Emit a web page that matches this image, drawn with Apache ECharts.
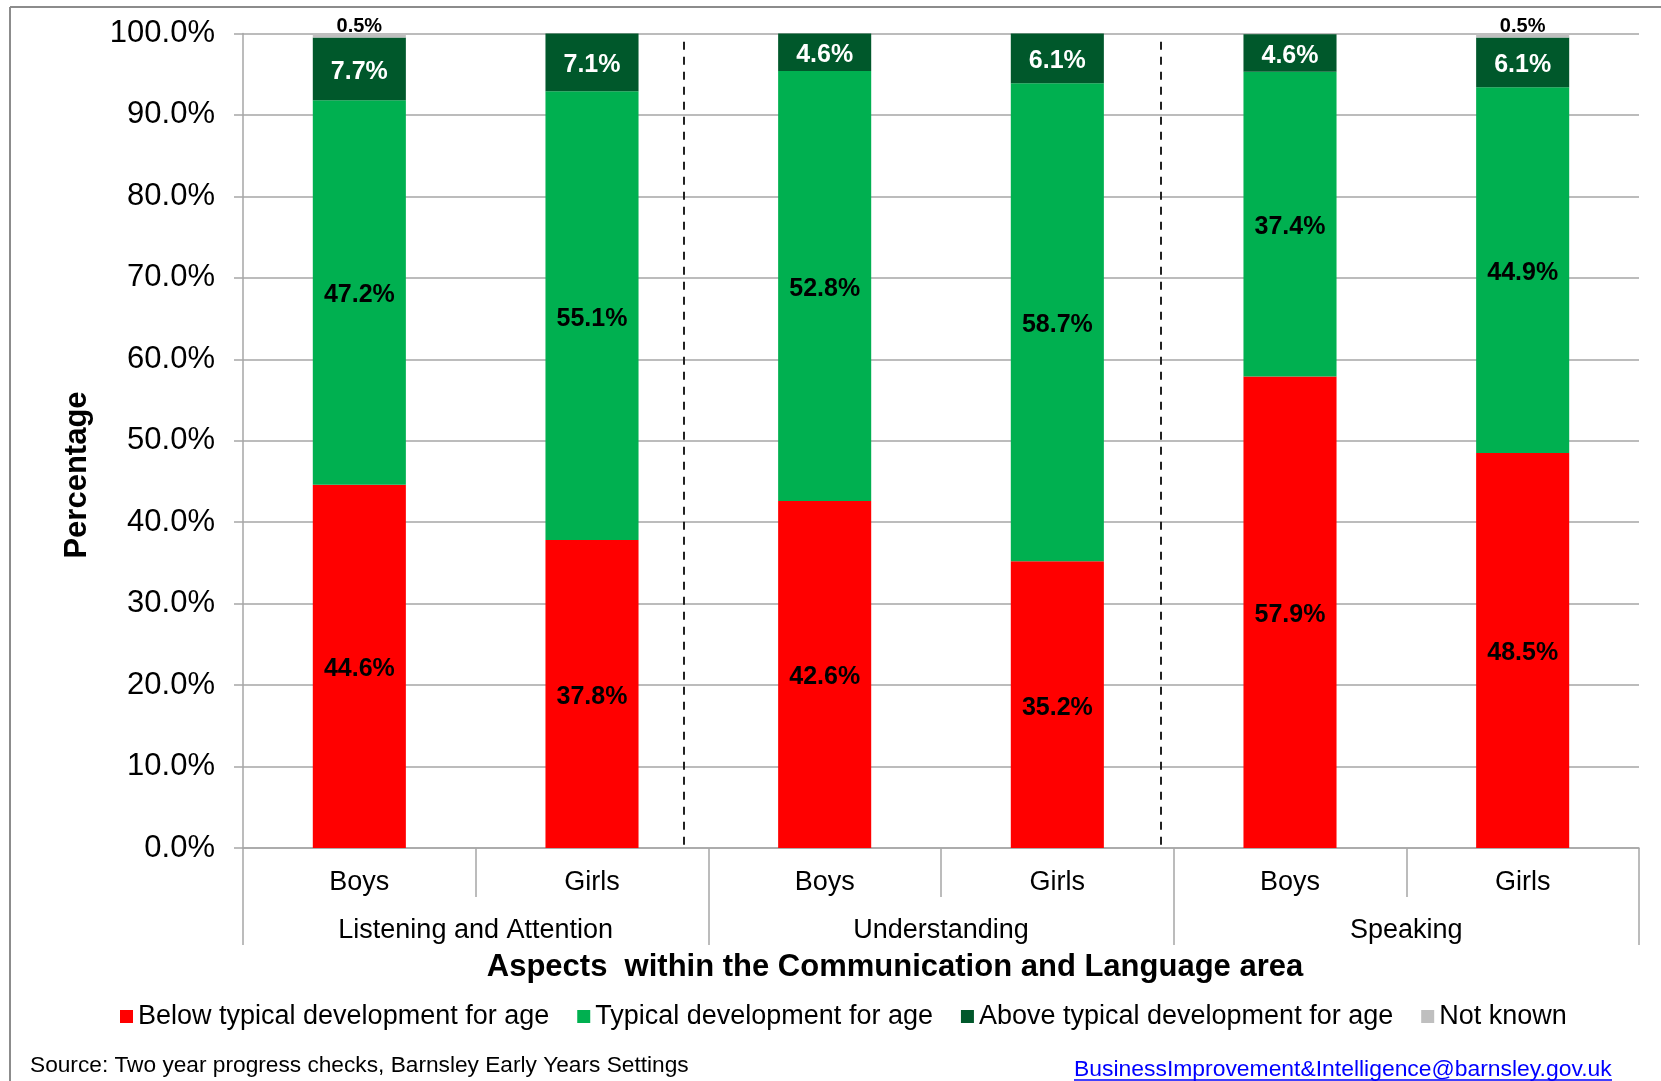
<!DOCTYPE html>
<html>
<head>
<meta charset="utf-8">
<script src="https://cdn.jsdelivr.net/npm/echarts@6/dist/echarts.min.js"></script>
<style>
  html, body { margin: 0; padding: 0; background: #fff; }
  #chart { width: 1661px; height: 1081px; }
</style>
</head>
<body>
<div id="chart"></div>
<script>
// categories
const genders = ['Boys', 'Girls', 'Boys', 'Girls', 'Boys', 'Girls'];
const aspects = ['Listening and Attention', 'Understanding', 'Speaking'];
const legendNames = ['Below typical development for age', 'Typical development for age', 'Above typical development for age', 'Not known'];

// values (%)
const belowTypical = [44.6, 37.8, 42.6, 35.2, 57.9, 48.5];
const typical = [47.2, 55.1, 52.8, 58.7, 37.4, 44.9];
const aboveTypical = [7.7, 7.1, 4.6, 6.1, 4.6, 6.1];
const notKnown = [0.5, 0, 0, 0, 0, 0.5];

// y axis ticks
const yMin = 0, yMax = 100, yStep = 10;

// dashed dividers, in category units along the x axis
const separatorPositions = [1.893, 3.945];

const FONT = 'Liberation Sans, Arial, sans-serif';
const GRID = '#a6a6a6';

function pct(p) {
  return p.value ? p.value.toFixed(1) + '%' : '';
}

function barSeries(name, data, color, labelColor, labelPos, labelSize, dist) {
  return {
    name: name,
    type: 'bar',
    stack: 'total',
    xAxisIndex: 0,
    barWidth: '40%',
    data: data,
    itemStyle: { color: color },
    label: {
      show: true,
      position: labelPos,
      distance: dist,
      offset: [0, 3],
      formatter: pct,
      color: labelColor,
      fontFamily: FONT,
      fontWeight: 'bold',
      fontSize: labelSize
    }
  };
}

let chart = echarts.init(document.getElementById('chart'));
let option = {
  backgroundColor: '#fff',
  animation: false,
  textStyle: { fontFamily: FONT },
  grid: { left: 243, right: 22, top: 33.5, bottom: 233, containLabel: false },
  legend: {
    data: legendNames,
    left: 115,
    top: 998,
    icon: 'rect',
    itemWidth: 13,
    itemHeight: 13,
    itemGap: 28,
    textStyle: { fontSize: 27, color: '#000', fontFamily: FONT }
  },
  xAxis: [
    {
      type: 'category',
      data: genders,
      position: 'bottom',
      axisLine: { show: true, lineStyle: { color: GRID, width: 1.5 } },
      axisTick: { show: true, length: 49, interval: 0, lineStyle: { color: GRID, width: 1.5 } },
      axisLabel: { interval: 0, margin: 21, fontSize: 27, color: '#000', fontFamily: FONT },
      splitLine: { show: false }
    },
    {
      type: 'category',
      data: aspects,
      position: 'bottom',
      axisLine: { show: false },
      axisTick: { show: true, length: 97, interval: 0, lineStyle: { color: GRID, width: 1.5 } },
      axisLabel: { interval: 0, margin: 69, fontSize: 27, color: '#000', fontFamily: FONT },
      splitLine: { show: false }
    },
    {
      type: 'value',
      min: 0,
      max: genders.length,
      show: false
    }
  ],
  yAxis: {
    type: 'value',
    min: yMin,
    max: yMax,
    interval: yStep,
    axisLine: { show: true, lineStyle: { color: GRID, width: 1.5 } },
    axisTick: { show: true, length: 9, lineStyle: { color: GRID, width: 1.5 } },
    axisLabel: {
      margin: 28,
      fontSize: 31,
      color: '#000',
      fontFamily: FONT,
      formatter: v => v.toFixed(1) + '%'
    },
    splitLine: { show: true, lineStyle: { color: GRID, width: 1.5 } }
  },
  series: [
    barSeries(legendNames[0], belowTypical, '#ff0000', '#000', 'inside', 25, 0),
    barSeries(legendNames[1], typical, '#00b050', '#000', 'inside', 25, 0),
    barSeries(legendNames[2], aboveTypical, '#00582b', '#fff', 'inside', 25, 0),
    barSeries(legendNames[3], notKnown, '#bfbfbf', '#000', 'top', 20, 0),
    {
      name: 'dividers',
      type: 'lines',
      coordinateSystem: 'cartesian2d',
      xAxisIndex: 2,
      yAxisIndex: 0,
      clip: false,
      silent: true,
      lineStyle: { type: [8, 7], color: '#222', width: 2, opacity: 1 },
      data: separatorPositions.map(x => ({ coords: [[x, 99.0], [x, -0.4]] }))
    }
  ],
  graphic: [
    // outer frame (top + left edges)
    { type: 'line', shape: { x1: 10, y1: 7, x2: 1661, y2: 7 }, style: { stroke: '#8c8c8c', lineWidth: 2 } },
    { type: 'line', shape: { x1: 10, y1: 7, x2: 10, y2: 1081 }, style: { stroke: '#8c8c8c', lineWidth: 2 } },
    {
      type: 'text', x: 77, y: 475, rotation: Math.PI / 2,
      style: { text: 'Percentage', fill: '#000', font: 'bold 31px ' + FONT, align: 'center', verticalAlign: 'middle' }
    },
    {
      type: 'text', x: 895, y: 967,
      style: { text: 'Aspects  within the Communication and Language area', fill: '#000', font: 'bold 31px ' + FONT, align: 'center', verticalAlign: 'middle' }
    },
    {
      type: 'text', x: 30, y: 1066,
      style: { text: 'Source: Two year progress checks, Barnsley Early Years Settings', fill: '#000', font: '22.7px ' + FONT, align: 'left', verticalAlign: 'middle' }
    },
    {
      type: 'text', x: 1074, y: 1070,
      style: { text: 'BusinessImprovement&Intelligence@barnsley.gov.uk', fill: '#0000ff', font: '22.9px ' + FONT, align: 'left', verticalAlign: 'middle' }
    },
    { type: 'line', shape: { x1: 1074, y1: 1080, x2: 1612, y2: 1080 }, style: { stroke: '#0000ff', lineWidth: 1.5 } }
  ]
};

option && chart.setOption(option);
</script>
</body>
</html>
